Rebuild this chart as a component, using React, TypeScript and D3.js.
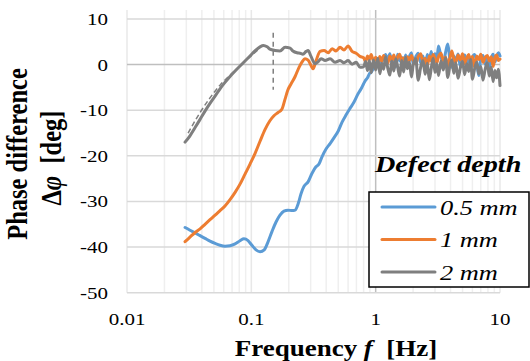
import * as d3 from 'd3';

// frequencies [Hz] shared by the noisy high-frequency part of every curve
const noiseFreq = [
  0.8, 0.83, 0.86, 0.89, 0.92, 0.96, 1.0, 1.04, 1.08, 1.12, 1.16, 1.2, 1.25, 1.3, 1.35, 1.4, 1.45,
  1.5, 1.56, 1.62, 1.68, 1.74, 1.8, 1.87, 1.94, 2.0, 2.1, 2.2, 2.3, 2.4, 2.5, 2.6, 2.7, 2.8, 2.9,
  3.0, 3.1, 3.2, 3.35, 3.5, 3.65, 3.8, 3.95, 4.1, 4.25, 4.4, 4.6, 4.8, 5.0, 5.2, 5.4, 5.6, 5.8,
  6.0, 6.25, 6.5, 6.75, 7.0, 7.3, 7.6, 7.9, 8.2, 8.5, 8.8, 9.1, 9.4, 9.7, 10.0,
];

// 0.5 mm
const blueLow: [number, number][] = [
  [0.0293, -35.7], [0.0321, -36.3], [0.0353, -36.9], [0.0387, -37.5], [0.0424, -38.1],
  [0.0465, -38.7], [0.0511, -39.2], [0.056, -39.6], [0.0614, -39.8], [0.0674, -39.7],
  [0.074, -39.3], [0.0811, -38.6], [0.0873, -38.2], [0.0941, -38.6], [0.101, -39.6],
  [0.109, -40.6], [0.1175, -41.0], [0.127, -40.6], [0.136, -38.9], [0.147, -36.5],
  [0.158, -34.5], [0.17, -33.0], [0.183, -32.1], [0.197, -31.9], [0.213, -32.0],
  [0.225, -31.9], [0.238, -30.5], [0.251, -28.3], [0.265, -26.7], [0.286, -25.7],
  [0.308, -23.8], [0.331, -22.4], [0.35, -21.8], [0.37, -20.2], [0.399, -18.5],
  [0.43, -17.3], [0.463, -16.0], [0.499, -14.6], [0.537, -12.6], [0.579, -11.0],
  [0.622, -9.6], [0.67, -8.2], [0.722, -6.4], [0.764, -5.3],
];
const blueHigh = [
  -4.2, -3.4, -2.9, -2.0, -1.7, -0.8, -0.4, 0.6, 0.3, 1.4, 1.0, 2.2, 0.9, 2.4, 0.4, 1.9, -0.5,
  2.3, 0.8, 1.6, -0.3, 2.1, 0.5, 1.8, 2.6, 0.2, 1.7, 2.5, 0.4, 1.9, -0.8, 2.2, 1.0, 2.9, 0.6,
  2.4, 1.1, 4.1, 1.8, 0.2, 2.7, 4.5, 1.2, -0.6, 1.9, 0.7, 2.3, -0.4, 1.5, 2.1, 0.3, 1.8, -1.2,
  1.6, 2.2, 0.4, -2.4, 1.3, 2.0, 0.1, 1.7, -0.9, 1.4, 2.3, 0.6, 1.8, 2.6, 1.9,
];

// 1 mm
const orangeLow: [number, number][] = [
  [0.0293, -38.8], [0.0321, -37.8], [0.0353, -36.8], [0.0387, -36.0], [0.0424, -35.0],
  [0.0465, -34.0], [0.0511, -33.0], [0.056, -32.0], [0.0614, -31.0], [0.0674, -29.6],
  [0.074, -28.0], [0.0811, -26.2], [0.089, -24.0], [0.0976, -21.8], [0.107, -19.5],
  [0.1175, -16.8], [0.129, -14.2], [0.141, -12.3], [0.152, -11.2], [0.164, -10.5],
  [0.176, -9.8], [0.187, -7.5], [0.197, -5.5], [0.208, -4.3], [0.225, -2.6],
  [0.242, -0.6], [0.256, 0.6], [0.27, 1.3], [0.286, 1.0], [0.302, -0.2], [0.314, -0.9],
  [0.331, 0.8], [0.357, 2.9], [0.385, 3.1], [0.415, 2.6], [0.447, 3.5], [0.48, 3.0],
  [0.517, 3.8], [0.556, 3.2], [0.6, 4.1], [0.646, 2.9], [0.697, 2.5], [0.749, 1.8],
];
const orangeHigh = [
  1.5, 0.6, 1.9, 1.1, 2.2, 0.8, 1.6, 0.4, 1.8, 0.7, 2.0, 1.2, 0.3, 1.9, 0.9, 2.1, 0.5,
  1.6, 2.3, 0.8, 1.5, -0.2, 1.7, 0.9, 2.0, 1.1, 0.2, 1.8, 2.4, 0.6, 1.4, -0.5, 1.9, 0.8, 2.2,
  1.3, 0.4, 1.7, 2.5, 0.9, 1.6, -0.3, 1.4, 3.0, 1.2, 0.5, 2.1, 1.0, 2.4, 0.2, 1.5, 2.2, 0.7,
  1.8, -0.6, 1.9, 1.1, 2.3, 0.5, 1.6, 2.0, 0.8, 1.7, -0.4, 1.5, 2.1, 0.9, 1.2,
];

// 2 mm
const grayLow: [number, number][] = [
  [0.0293, -17.0], [0.0321, -15.6], [0.0353, -13.8], [0.0387, -12.0], [0.0424, -10.2],
  [0.0465, -8.5], [0.0511, -6.9], [0.056, -5.3], [0.0614, -3.9], [0.0674, -2.6],
  [0.074, -1.4], [0.0811, -0.3], [0.089, 0.8], [0.0976, 1.9], [0.107, 3.0], [0.1175, 3.9],
  [0.125, 4.2], [0.134, 3.9], [0.141, 3.4], [0.155, 3.1], [0.17, 3.0], [0.187, 3.8],
  [0.205, 3.6], [0.216, 3.0], [0.233, 2.6], [0.2465, 2.5], [0.26, 2.3], [0.276, 2.9],
  [0.286, 3.1], [0.302, 1.8], [0.325, 0.2], [0.344, 0.6], [0.364, 1.3], [0.392, 0.9],
  [0.43, 1.3], [0.471, 0.5], [0.517, 0.9], [0.556, 0.4], [0.6, 0.9], [0.646, 0.1],
  [0.697, 0.5], [0.749, -0.6],
];
const grayHigh = [
  -0.5, 0.7, -1.3, 0.9, -1.8, 1.0, -1.2, 1.4, -2.0, 0.3, -1.0, 1.7, -0.7, -2.3, 0.8, -1.4, 1.3,
  -0.4, -2.5, 0.9, -1.6, 1.6, -0.9, 0.5, -2.7, -0.2, 1.3, -3.4, -0.6, 0.9, -2.1, 0.3, -3.3, -0.8,
  1.4, -1.7, 0.2, -2.4, 0.8, -1.2, 1.5, -2.8, -0.3, 1.0, -1.9, 0.4, -3.0, -0.7, 0.7, -2.2, 0.2,
  -1.5, 1.1, -3.2, -0.9, 0.5, -2.0, -0.4, -3.4, -1.0, 0.4, -2.5, -0.6, -3.7, -1.3, -2.9, -1.0, -4.6,
];

// dashed model curve and marker
const fitCurve: [number, number][] = [
  [0.031, -15.0], [0.0387, -10.5], [0.0465, -7.3], [0.056, -4.5], [0.0674, -2.3],
  [0.0811, -0.3], [0.0976, 1.7], [0.113, 3.2],
];
const markerFreq = 0.15;
const markerRange = [7, -5.5];

const seriesNames = ['0.5 mm', '1 mm', '2 mm'];
const seriesColors = ['#5B9BD5', '#ED7D31', '#7F7F7F'];

const yTicks = [10, 0, -10, -20, -30, -40, -50];
const xMajor = [0.01, 0.1, 1, 10];
const xLabels = ['0.01', '0.1', '1', '10'];

const W = 530;
const H = 361;
const PLOT = { left: 127, right: 500, top: 19, bottom: 292.7 };
const SX = 1.2; // horizontal stretch of the lettering
const FONT = "'Liberation Serif', 'Times New Roman', Times, serif";

const join = (low: [number, number][], high: number[]): [number, number][] =>
  low.concat(noiseFreq.map((f, i) => [f, high[i]] as [number, number]));

export default function App() {
  const x = d3.scaleLog().domain([0.01, 10]).range([PLOT.left, PLOT.right]);
  const y = d3.scaleLinear().domain([-50, 10]).range([PLOT.bottom, PLOT.top]);

  const line = d3
    .line<[number, number]>()
    .x((d) => x(d[0]))
    .y((d) => y(d[1]))
    .curve(d3.curveMonotoneX);

  const data = [join(blueLow, blueHigh), join(orangeLow, orangeHigh), join(grayLow, grayHigh)];
  const gridTop = PLOT.top - 9;
  const minor = x.ticks().filter((t) => !xMajor.some((m) => Math.abs(m - t) < 1e-9));

  const legendRows = [207, 239.5, 272];
  const txt = { fontFamily: FONT };

  return (
    <div style={{ position: 'absolute', left: 0, top: 0 }}>
      <svg width={W} height={H} style={{ display: 'block', background: '#fff', fontFamily: FONT }}>
        {/* minor vertical grid */}
        {minor.map((t) => (
          <line key={`mn${t}`} x1={x(t)} x2={x(t)} y1={gridTop} y2={PLOT.bottom} stroke="#efefef" strokeWidth={1.5} />
        ))}
        {/* major vertical grid */}
        {xMajor.map((t) => (
          <line key={`mj${t}`} x1={x(t)} x2={x(t)} y1={gridTop} y2={PLOT.bottom} stroke={t === 1 ? '#bfbfbf' : '#e8e8e8'} strokeWidth={1.5} />
        ))}
        {/* horizontal grid */}
        {yTicks.map((t) => (
          <line key={`h${t}`} x1={PLOT.left} x2={PLOT.right} y1={y(t)} y2={y(t)} stroke={t === 0 ? '#bfbfbf' : '#d9d9d9'} strokeWidth={1.5} />
        ))}

        {/* y tick labels */}
        {yTicks.map((t) => (
          <text key={`yl${t}`} style={txt} transform={`translate(108,${y(t) + 6}) scale(${SX},1)`} textAnchor="end" fontSize={17.5} fill="#000">
            {t}
          </text>
        ))}
        {/* x tick labels */}
        {xMajor.map((t, i) => (
          <text key={`xl${t}`} style={txt} transform={`translate(${x(t)},325) scale(${SX},1)`} textAnchor="middle" fontSize={17.5} fill="#000">
            {xLabels[i]}
          </text>
        ))}

        {/* series */}
        {data.map((d, i) => (
          <path key={seriesNames[i]} d={line(d) ?? ''} fill="none" stroke={seriesColors[i]} strokeWidth={3} strokeLinejoin="round" strokeLinecap="round" />
        ))}

        {/* dashed fit and marker */}
        <path d={line(fitCurve) ?? ''} fill="none" stroke="#7F7F7F" strokeWidth={1.5} strokeDasharray="5,3" />
        <line x1={x(markerFreq)} x2={x(markerFreq)} y1={y(markerRange[0])} y2={y(markerRange[1])} stroke="#7F7F7F" strokeWidth={1.5} strokeDasharray="5,4" />

        {/* legend */}
        <text style={txt} transform={`translate(375,172) scale(${SX},1)`} fontSize={23.5} fontWeight="bold" fontStyle="italic">
          Defect depth
        </text>
        <rect x={369} y={192} width={160} height={95} fill="#fff" stroke="#000" strokeWidth={1.5} />
        {seriesNames.map((n, i) => (
          <g key={`lg${n}`}>
            <line x1={382} x2={435} y1={legendRows[i]} y2={legendRows[i]} stroke={seriesColors[i]} strokeWidth={3} strokeLinecap="round" />
            <text style={txt} transform={`translate(440,${legendRows[i] + 7.5}) scale(${SX},1)`} fontSize={22} fontStyle="italic">
              {n}
            </text>
          </g>
        ))}

        {/* x axis title */}
        <text style={txt} transform={`translate(336,356) scale(${SX},1)`} textAnchor="middle" fontSize={22.5} fontWeight="bold">
          Frequency <tspan fontStyle="italic">f</tspan>{'\u00a0\u00a0'}[Hz]
        </text>

        {/* y axis title */}
        <text style={txt} transform={`translate(27,154) scale(${SX},1) rotate(-90)`} textAnchor="middle" fontSize={24.5} fontWeight="bold">
          Phase difference
        </text>
        <text style={txt} transform={`translate(61,158) scale(${SX},1) rotate(-90)`} textAnchor="middle" fontSize={24.5} fontWeight="bold">
          {'\u0394'}<tspan fontStyle="italic">{'\u03c6'}</tspan>{'\u00a0\u00a0'}[deg]
        </text>
      </svg>
    </div>
  );
}
